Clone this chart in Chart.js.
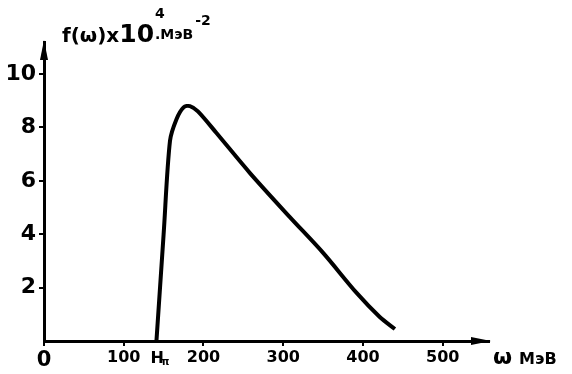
<!DOCTYPE html>
<html>
<head>
<meta charset="utf-8">
<script src="https://cdn.jsdelivr.net/npm/chart.js@4"></script>
<style>
  html, body { margin: 0; background: #fff; }
  #c { display: block; }
</style>
</head>
<body>
<canvas id="c" width="572" height="374"></canvas>
<script>
// omega in MeV, f(omega) x 10^4 MeV^-2
const omega = [141, 150, 158, 166, 175, 183, 193, 216, 258, 308, 350, 392, 421, 440];
const fvals = [0, 4.0, 7.5, 8.3, 8.75, 8.8, 8.6, 7.8, 6.3, 4.65, 3.3, 1.8, 0.9, 0.45];
const xTicks = [0, 100, 200, 300, 400, 500];
const yTicks = [2, 4, 6, 8, 10];
const mPi = 141;

const FONT = '"DejaVu Sans", sans-serif';

const points = omega.map((w, i) => ({ x: w, y: fvals[i] }));

// arrows on the axes + hand-lettered labels
const decor = {
  id: 'decor',
  afterDraw(chart) {
    const { ctx, chartArea: a, scales } = chart;
    ctx.save();
    ctx.fillStyle = '#000';
    ctx.strokeStyle = '#000';

    // arrow heads
    ctx.beginPath();
    ctx.moveTo(a.left, a.top - 2);
    ctx.lineTo(a.left - 4, a.top + 18);
    ctx.lineTo(a.left + 4, a.top + 18);
    ctx.closePath();
    ctx.fill();
    ctx.beginPath();
    ctx.moveTo(a.right + 2, a.bottom);
    ctx.lineTo(a.right - 18, a.bottom - 4);
    ctx.lineTo(a.right - 18, a.bottom + 4);
    ctx.closePath();
    ctx.fill();

    // y-axis title: f(w)x10^4 MeV^-2
    let x = a.left + 18, base = a.top;
    ctx.textBaseline = 'alphabetic';
    ctx.textAlign = 'left';
    ctx.font = 'bold 20px ' + FONT;
    ctx.fillText('f(ω)x', x, base);
    x += ctx.measureText('f(ω)x').width;
    ctx.font = 'bold 25px ' + FONT;
    ctx.fillText('10', x, base);
    x += ctx.measureText('10').width + 1;
    ctx.font = 'bold 14px ' + FONT;
    ctx.fillText('4', x, base - 24);
    ctx.fillText('.МэВ', x, base - 3);
    x += ctx.measureText('.МэВ').width + 2;
    ctx.fillText('-2', x, base - 17);

    // x-axis title
    const yb = a.bottom + 23;
    ctx.font = 'bold 22px ' + FONT;
    ctx.fillText('ω', a.right + 4, yb);
    ctx.font = 'bold 16px ' + FONT;
    ctx.fillText('МэВ', a.right + 30, yb);

    // pion mass mark
    const px = scales.x.getPixelForValue(mPi);
    ctx.font = 'bold 16px ' + FONT;
    ctx.fillText('H', px - 6, yb - 1);
    ctx.font = 'bold 10px ' + FONT;
    ctx.fillText('π', px + 5, yb + 1);
    ctx.restore();
  }
};

new Chart(document.getElementById('c'), {
  type: 'line',
  data: {
    datasets: [{
      data: points,
      borderColor: '#000',
      borderWidth: 4,
      pointRadius: 0,
      fill: false,
      tension: 0.3
    }]
  },
  options: {
    responsive: false,
    animation: false,
    layout: { padding: { top: 42, right: 83, left: 0, bottom: 0 } },
    plugins: { legend: { display: false }, tooltip: { enabled: false } },
    scales: {
      x: {
        type: 'linear',
        min: 0,
        max: 558,
        afterBuildTicks: s => { s.ticks = xTicks.map(v => ({ value: v })); },
        afterFit: s => { s.height = 33; },
        border: { color: '#000', width: 3 },
        grid: { drawOnChartArea: false, color: '#000', lineWidth: 2, tickLength: 5 },
        ticks: {
          color: '#000',
          padding: 2,
          font: c => ({ family: FONT, weight: 'bold', size: c.tick && c.tick.value === 0 ? 21 : 16 })
        }
      },
      y: {
        min: 0,
        max: 11.2,
        afterBuildTicks: s => { s.ticks = yTicks.map(v => ({ value: v })); },
        afterFit: s => { s.width = 44; },
        border: { color: '#000', width: 3 },
        grid: { drawOnChartArea: false, color: '#000', lineWidth: 2, tickLength: 5 },
        ticks: {
          color: '#000',
          padding: 3,
          font: { family: FONT, weight: 'bold', size: 22 }
        }
      }
    }
  },
  plugins: [decor]
});
</script>
</body>
</html>
